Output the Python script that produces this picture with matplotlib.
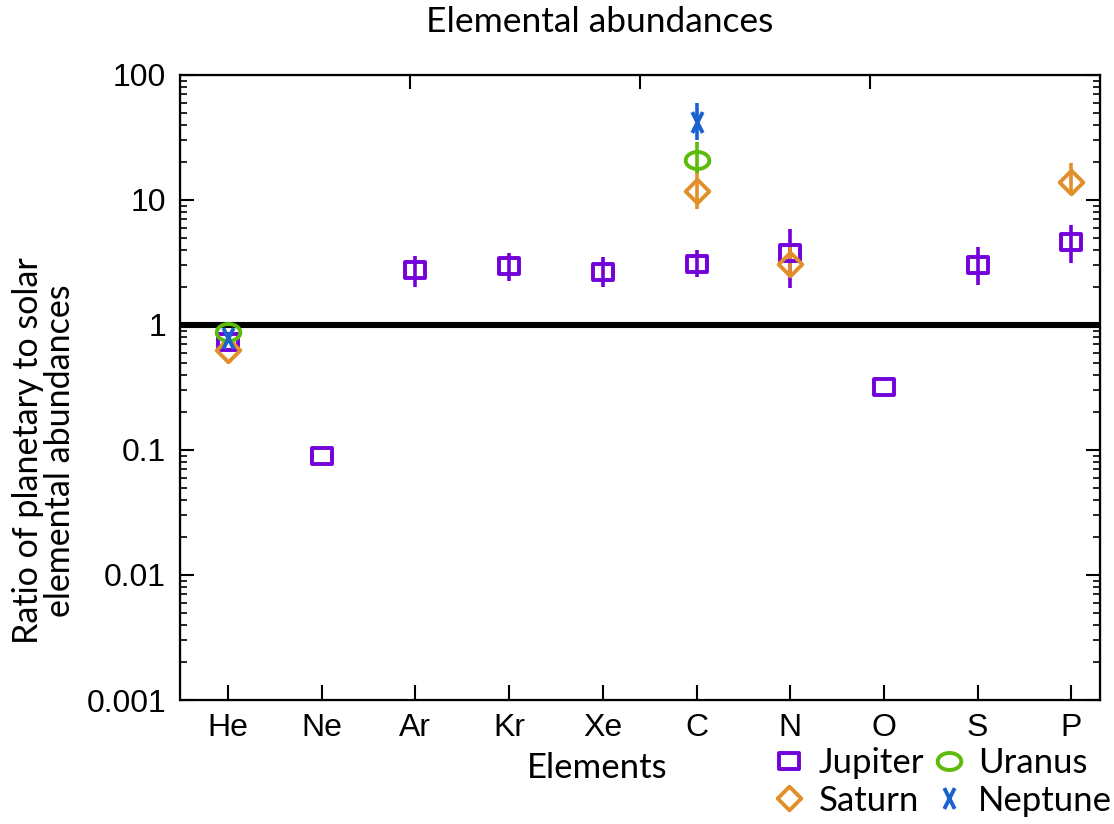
import matplotlib
matplotlib.use("Agg")
import matplotlib.pyplot as plt
from matplotlib.path import Path
from matplotlib.ticker import FixedLocator, NullFormatter
import numpy as np

elements = ["He", "Ne", "Ar", "Kr", "Xe", "C", "N", "O", "S", "P"]

# Jupiter: ratio to solar, with lower/upper bounds (nan = no bar)
jup_idx = [0, 1, 2, 3, 4, 5, 6, 7, 8, 9]
jup_val = [0.73, 0.089, 2.75, 2.97, 2.65, 3.1, 3.8, 0.32, 3.0, 4.6]
jup_lo = [np.nan, np.nan, 2.01, 2.25, 2.01, 2.42, 1.98, np.nan, 2.09, 3.13]
jup_hi = [np.nan, np.nan, 3.57, 3.77, 3.5, 3.98, 5.87, np.nan, 4.2, 6.3]

sat_idx = [0, 5, 6, 9]
sat_val = [0.63, 11.8, 3.1, 13.9]
sat_lo = [np.nan, 8.4, 2.42, 11.4]
sat_hi = [np.nan, 17.4, 4.37, 19.8]

ura_idx = [0, 5]
ura_val = [0.88, 21.0]
ura_lo = [np.nan, 16.5]
ura_hi = [np.nan, 29.0]

nep_idx = [0, 5]
nep_val = [0.79, 42.0]
nep_lo = [np.nan, 30.0]
nep_hi = [np.nan, 60.0]

ytick_vals = [0.001, 0.01, 0.1, 1, 10, 100]
ytick_labels = ["0.001", "0.01", "0.1", "1", "10", "100"]

# open markers shaped like the gnuplot point types
def outline(pts):
    pts = list(pts) + [pts[0]]
    codes = [Path.MOVETO] + [Path.LINETO] * (len(pts) - 2) + [Path.CLOSEPOLY]
    return Path(pts, codes)

rect = outline([(-1, -0.85), (1, -0.85), (1, 0.85), (-1, 0.85)])
diamond = outline([(0, -1), (1, 0), (0, 1), (-1, 0)])
t = np.linspace(0, 2 * np.pi, 60, endpoint=False)
ellipse = outline(list(zip(np.cos(t), 0.72 * np.sin(t))))
xmark = Path([(-0.5, -1), (0.5, 1), (-0.5, 1), (0.5, -1)],
             [Path.MOVETO, Path.LINETO, Path.MOVETO, Path.LINETO])

series = [
    ("Jupiter", jup_idx, jup_val, jup_lo, jup_hi, "#7300DB", rect, 14),
    ("Saturn", sat_idx, sat_val, sat_lo, sat_hi, "#E08F2A", diamond, 17),
    ("Uranus", ura_idx, ura_val, ura_lo, ura_hi, "#5DBB0A", ellipse, 17),
    ("Neptune", nep_idx, nep_val, nep_lo, nep_hi, "#1A62CF", xmark, 15),
]

font_main = "Lato"
font_ticks = "Liberation Sans"

fig = plt.figure(figsize=(11.14, 8.24), dpi=100)
ax = fig.add_axes([180 / 1114, 1 - 700 / 824, 920 / 1114, 625 / 824])

ax.axhline(1, color="black", lw=4.4, zorder=1)

handles = []
for name, idx, val, lo, hi, col, mk, ms in series:
    idx = np.array(idx, dtype=float)
    val = np.array(val)
    lo = np.array(lo)
    hi = np.array(hi)
    has = ~np.isnan(lo)
    ax.vlines(idx[has], lo[has], hi[has], color=col, lw=2.6, zorder=2)
    h, = ax.plot(idx, val, ls="none", marker=mk, ms=ms, mew=2.8,
                 mec=col, mfc="none", color=col, label=name, zorder=3)
    handles.append(h)

ax.set_yscale("log")
ax.set_ylim(0.001, 100)
ax.set_xlim(-0.512, 9.306)

ax.set_xticks(range(len(elements)))
ax.set_xticklabels(elements, fontsize=23, family=font_ticks)
ax.yaxis.set_major_locator(FixedLocator(ytick_vals))
ax.set_yticklabels(ytick_labels, fontsize=23, family=font_ticks)
minors = [m * 10.0 ** e for e in range(-3, 2) for m in range(2, 10)]
ax.yaxis.set_minor_locator(FixedLocator(minors))
ax.yaxis.set_minor_formatter(NullFormatter())

ax.tick_params(axis="y", which="major", direction="in", length=10, width=1.5,
               right=True, pad=10)
ax.tick_params(axis="y", which="minor", direction="in", length=5, width=1.2,
               right=True)
ax.tick_params(axis="x", which="major", direction="in", length=11, width=1.5,
               top=False, pad=9)
ax.tick_params(axis="x", which="minor", bottom=False, top=False)
for sp in ax.spines.values():
    sp.set_linewidth(1.6)

# top border ticks
top = ax.twiny()
top.set_xlim(0, 4)
top.set_xticks([1, 2, 3])
top.set_xticklabels([])
top.tick_params(axis="x", direction="in", length=10, width=1.5)
top.tick_params(axis="x", which="minor", top=False)

fig.text(600 / 1114, 1 - 22 / 824, "Elemental abundances", ha="center",
         va="center", fontsize=25.5, family=font_main)
fig.text(597 / 1114, 1 - 768 / 824, "Elements", ha="center", va="center",
         fontsize=25, family=font_main)
fig.text(44 / 1114, 1 - 451 / 824,
         "Ratio of planetary to solar\nelemental abundances",
         ha="center", va="center", rotation=90, fontsize=24.5,
         family=font_main, linespacing=1.0)

fig.legend(handles=handles, loc="center",
           bbox_to_anchor=(942 / 1114, 1 - 782 / 824), ncol=2,
           frameon=False, prop={"family": font_main, "size": 25},
           handlelength=1.0, handletextpad=0.35, columnspacing=0.2,
           labelspacing=0.15, borderpad=0, borderaxespad=0)

fig.savefig("out.png", dpi=100)
